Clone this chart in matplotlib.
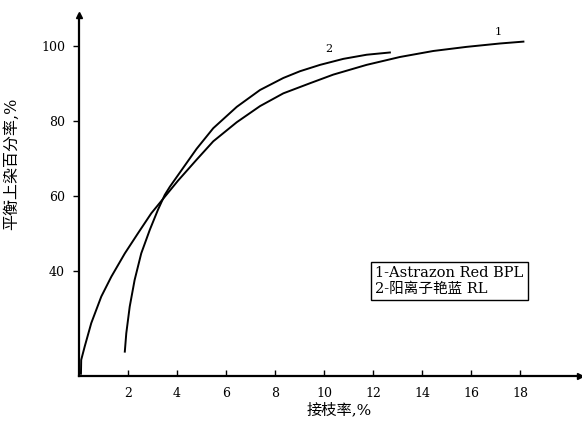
import matplotlib
import matplotlib.pyplot as plt

matplotlib.use('Agg')

plt.rcParams['font.family'] = ['DejaVu Serif', 'Noto Sans CJK SC']

#Curve data (graft ratio %, dye uptake %)
x1 = [0.08, 0.09, 0.23, 0.50, 0.91, 1.32, 1.87, 2.41, 2.95, 3.50, 4.04, 4.80, 5.48, 6.44,
      7.39, 8.34, 9.43, 10.38, 11.74, 13.10, 14.46, 15.82, 17.18, 18.14]
y1 = [12.5, 16.2, 19.7, 26.0, 33.1, 38.4, 44.6, 50.0, 55.3, 59.7, 64.0, 69.6, 74.5, 79.6,
      83.9, 87.3, 90.0, 92.3, 94.9, 97.0, 98.6, 99.7, 100.6, 101.1]

x2 = [1.87, 1.93, 2.07, 2.27, 2.54, 2.89, 3.22, 3.50, 3.71, 4.26, 4.80, 5.48, 6.44, 7.39,
      8.34, 9.02, 9.84, 10.79, 11.74, 12.69]
y2 = [18.4, 23.3, 30.4, 37.5, 44.6, 50.9, 56.2, 60.2, 62.4, 67.5, 72.5, 78.0, 83.7, 88.2,
      91.4, 93.2, 94.9, 96.5, 97.6, 98.2]

x_ticks = [2, 4, 6, 8, 10, 12, 14, 16, 18]
y_ticks = [40, 60, 80, 100]

curve_labels = ["1", "2"]
label_pos = [(17.1, 102.3), (10.2, 97.8)]
legend_lines = ["1-Astrazon Red BPL", "2-阳离子艳蓝 RL"]

fig = plt.figure(figsize=(5.82, 4.28), dpi=100)
ax = fig.add_axes([79 / 582, 52 / 428, 501 / 582, 361 / 428])

ax.plot(x1, y1, color='black', lw=1.4)
ax.plot(x2, y2, color='black', lw=1.4)

#curve number labels
for lab, (lx, ly) in zip(curve_labels, label_pos):
    ax.text(lx, ly, lab, fontsize=8, ha='center', va='bottom')

ax.set_xlim(0, 20.45)
ax.set_ylim(11.9, 108.2)
ax.set_xticks(x_ticks)
ax.set_yticks(y_ticks)
ax.tick_params(axis='x', direction='in', length=4, width=1, labelsize=9, pad=8)
ax.tick_params(axis='y', direction='out', length=4, width=1, labelsize=9, pad=6)

for side in ['top', 'right']:
    ax.spines[side].set_visible(False)
for side in ['left', 'bottom']:
    ax.spines[side].set_linewidth(1.6)

#axis arrows
ax.plot(1, 0, '>k', markersize=5, transform=ax.transAxes, clip_on=False)
ax.plot(0, 1, '^k', markersize=5, transform=ax.transAxes, clip_on=False)

ax.set_xlabel("接枝率,%", fontsize=11)
ax.xaxis.set_label_coords(0.52, -0.075)
ax.set_ylabel("平衡上染百分率,%", fontsize=11.5)
ax.yaxis.set_label_coords(-0.118, 0.587)

#legend box
fig.text(375 / 582, 1 - 281 / 428, "\n".join(legend_lines), fontsize=10.5,
         ha='left', va='center', linespacing=1.2,
         bbox=dict(boxstyle='square,pad=0.3', facecolor='white', edgecolor='black', lw=1))

fig.savefig("out.png", dpi=100)
